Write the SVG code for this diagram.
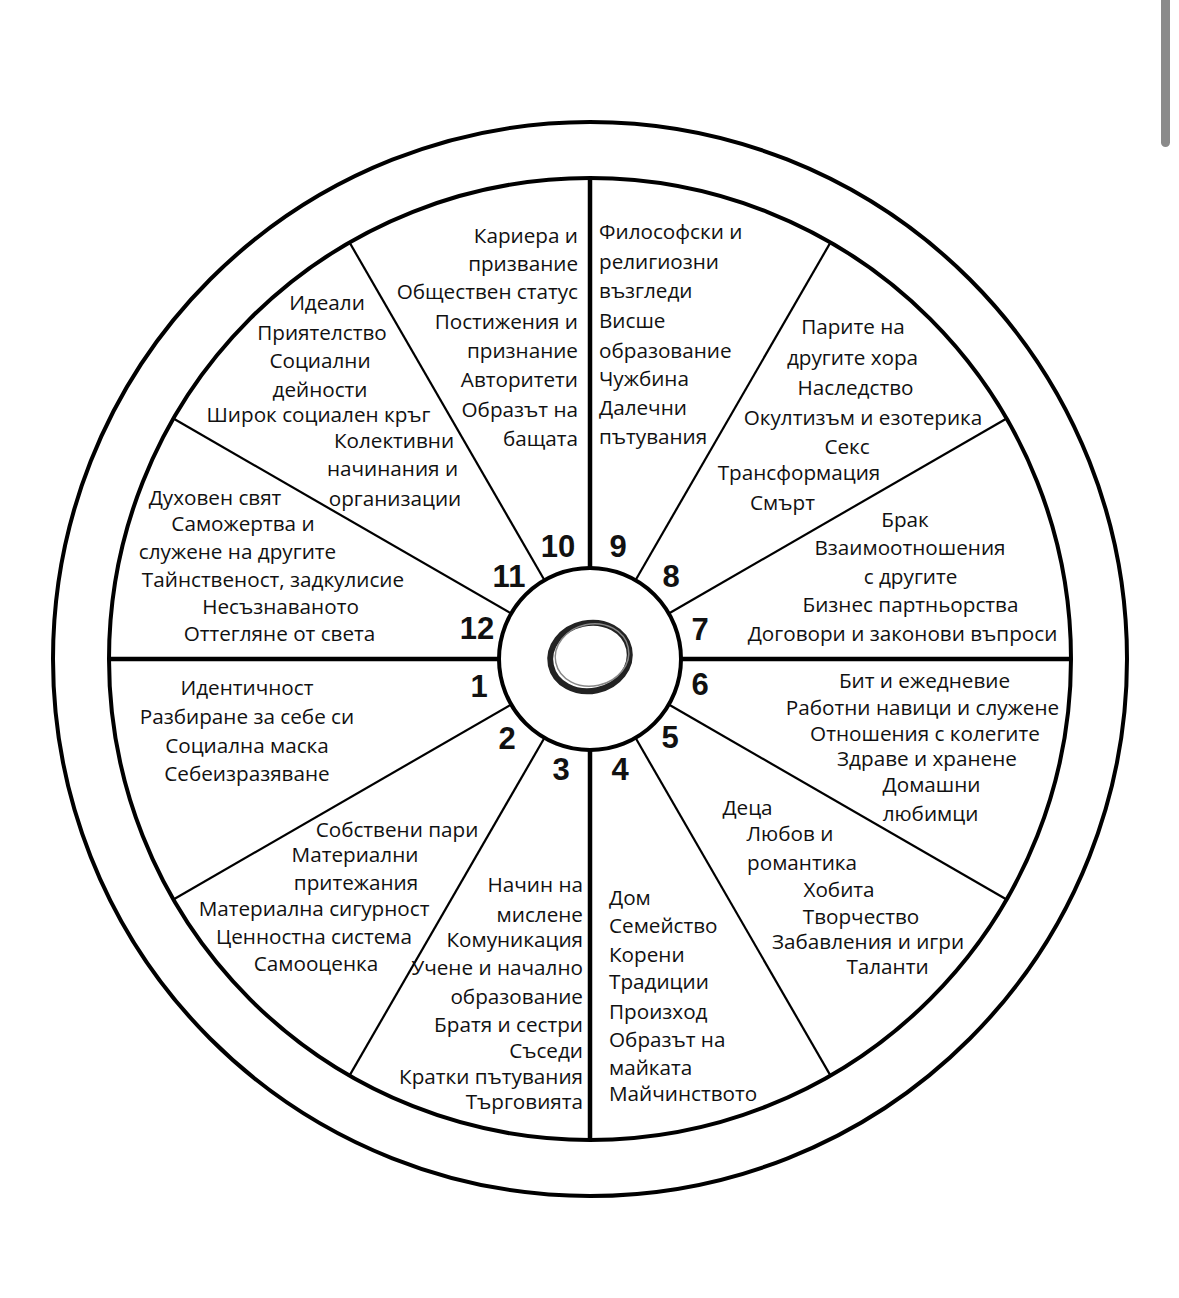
<svg xmlns="http://www.w3.org/2000/svg" width="1179" height="1298" viewBox="0 0 1179 1298">
<style>
.t{font-family:"Open Sans","Noto Sans","DejaVu Sans",sans-serif;font-size:20.7px;fill:#111}
.m{text-anchor:middle}.e{text-anchor:end}.s{text-anchor:start}
.n{font-family:"Liberation Sans",Arial,sans-serif;font-size:31px;font-weight:bold;fill:#111;text-anchor:middle}
.ring{fill:none;stroke:#000;stroke-width:4}
.thick{stroke:#000;stroke-width:4.5}
.thin{stroke:#000;stroke-width:2.2}
</style>
<rect width="1179" height="1298" fill="#fff"/>
<rect x="1161" y="-6" width="9" height="153" rx="4.5" fill="#8a8a8a"/>
<g id="wheel">
<circle class="ring" cx="590" cy="659" r="537"/>
<circle class="ring" cx="590" cy="659" r="481"/>
<circle class="ring" cx="590" cy="659" r="91"/>
</g>
<g id="center-mark">
<ellipse cx="590" cy="657" rx="40" ry="34" transform="rotate(-12 590 657)" fill="none" stroke="#222" stroke-width="6"/>
<ellipse cx="592" cy="655" rx="37" ry="31" transform="rotate(-12 592 655)" fill="none" stroke="#888" stroke-width="1.5"/>
</g>
<g id="connectors">
<line class="thick" x1="109" y1="659" x2="499" y2="659"/>
<line class="thick" x1="681" y1="659" x2="1071" y2="659"/>
<line class="thick" x1="590" y1="178" x2="590" y2="568"/>
<line class="thick" x1="590" y1="750" x2="590" y2="1140"/>
<line class="thin" x1="668.8" y1="704.5" x2="1006.6" y2="899.5"/>
<line class="thin" x1="635.5" y1="737.8" x2="830.5" y2="1075.6"/>
<line class="thin" x1="544.5" y1="737.8" x2="349.5" y2="1075.6"/>
<line class="thin" x1="511.2" y1="704.5" x2="173.4" y2="899.5"/>
<line class="thin" x1="511.2" y1="613.5" x2="173.4" y2="418.5"/>
<line class="thin" x1="544.5" y1="580.2" x2="349.5" y2="242.4"/>
<line class="thin" x1="635.5" y1="580.2" x2="830.5" y2="242.4"/>
<line class="thin" x1="668.8" y1="613.5" x2="1006.6" y2="418.5"/>
</g>
<g id="house1">
<text class="n" x="479" y="697">1</text>
<text class="t m" x="247" y="695">Идентичност</text>
<text class="t m" x="247" y="724">Разбиране за себе си</text>
<text class="t m" x="247" y="753">Социална маска</text>
<text class="t m" x="247" y="781">Себеизразяване</text>
</g>
<g id="house2">
<text class="n" x="507" y="749">2</text>
<text class="t m" x="397" y="837">Собствени пари</text>
<text class="t m" x="355" y="862">Материални</text>
<text class="t m" x="356" y="890">притежания</text>
<text class="t m" x="314" y="916">Материална сигурност</text>
<text class="t m" x="314" y="944">Ценностна система</text>
<text class="t m" x="316" y="971">Самооценка</text>
</g>
<g id="house3">
<text class="n" x="561" y="780">3</text>
<text class="t e" x="583" y="892">Начин на</text>
<text class="t e" x="583" y="922">мислене</text>
<text class="t e" x="583" y="947">Комуникация</text>
<text class="t e" x="583" y="975">Учене и начално</text>
<text class="t e" x="583" y="1004">образование</text>
<text class="t e" x="583" y="1032">Братя и сестри</text>
<text class="t e" x="583" y="1058">Съседи</text>
<text class="t e" x="583" y="1084">Кратки пътувания</text>
<text class="t e" x="583" y="1109">Търговията</text>
</g>
<g id="house4">
<text class="n" x="620" y="780">4</text>
<text class="t s" x="609" y="905">Дом</text>
<text class="t s" x="609" y="933">Семейство</text>
<text class="t s" x="609" y="962">Корени</text>
<text class="t s" x="609" y="989">Традиции</text>
<text class="t s" x="609" y="1019">Произход</text>
<text class="t s" x="609" y="1047">Образът на</text>
<text class="t s" x="609" y="1075">майката</text>
<text class="t s" x="609" y="1101">Майчинството</text>
</g>
<g id="house5">
<text class="n" x="670" y="748">5</text>
<text class="t m" x="747.5" y="815">Деца</text>
<text class="t m" x="790" y="841">Любов и</text>
<text class="t m" x="802" y="870">романтика</text>
<text class="t m" x="839" y="897">Хобита</text>
<text class="t m" x="861" y="924">Творчество</text>
<text class="t m" x="868" y="949">Забавления и игри</text>
<text class="t m" x="887.5" y="974">Таланти</text>
</g>
<g id="house6">
<text class="n" x="700" y="695">6</text>
<text class="t m" x="924.5" y="688">Бит и ежедневие</text>
<text class="t m" x="922.5" y="715">Работни навици и служене</text>
<text class="t m" x="925" y="741">Отношения с колегите</text>
<text class="t m" x="927" y="766">Здраве и хранене</text>
<text class="t m" x="931.5" y="792">Домашни</text>
<text class="t m" x="930.5" y="821">любимци</text>
</g>
<g id="house7">
<text class="n" x="700" y="640">7</text>
<text class="t m" x="905" y="527">Брак</text>
<text class="t m" x="910" y="555">Взаимоотношения</text>
<text class="t m" x="910.5" y="584">с другите</text>
<text class="t m" x="910.5" y="612">Бизнес партньорства</text>
<text class="t m" x="902.5" y="641">Договори и законови въпроси</text>
</g>
<g id="house8">
<text class="n" x="671" y="587">8</text>
<text class="t m" x="853" y="334">Парите на</text>
<text class="t m" x="852.5" y="365">другите хора</text>
<text class="t m" x="855.5" y="395">Наследство</text>
<text class="t m" x="863" y="425">Окултизъм и езотерика</text>
<text class="t m" x="847" y="454">Секс</text>
<text class="t m" x="799" y="480">Трансформация</text>
<text class="t m" x="782.5" y="510">Смърт</text>
</g>
<g id="house9">
<text class="n" x="618" y="557">9</text>
<text class="t s" x="599" y="239">Философски и</text>
<text class="t s" x="599" y="269">религиозни</text>
<text class="t s" x="599" y="298">възгледи</text>
<text class="t s" x="599" y="328">Висше</text>
<text class="t s" x="599" y="358">образование</text>
<text class="t s" x="599" y="386">Чужбина</text>
<text class="t s" x="599" y="415">Далечни</text>
<text class="t s" x="599" y="444">пътувания</text>
</g>
<g id="house10">
<text class="n" x="558" y="557">10</text>
<text class="t e" x="578" y="243">Кариера и</text>
<text class="t e" x="578" y="271">призвание</text>
<text class="t e" x="578" y="299">Обществен статус</text>
<text class="t e" x="578" y="329">Постижения и</text>
<text class="t e" x="578" y="358">признание</text>
<text class="t e" x="578" y="387">Авторитети</text>
<text class="t e" x="578" y="417">Образът на</text>
<text class="t e" x="578" y="446">бащата</text>
</g>
<g id="house11">
<text class="n" x="509" y="587">11</text>
<text class="t m" x="327" y="310">Идеали</text>
<text class="t m" x="322" y="340">Приятелство</text>
<text class="t m" x="320" y="368">Социални</text>
<text class="t m" x="320" y="397">дейности</text>
<text class="t m" x="318.5" y="422">Широк социален кръг</text>
<text class="t m" x="394" y="448">Колективни</text>
<text class="t m" x="392.5" y="476">начинания и</text>
<text class="t m" x="395" y="506">организации</text>
</g>
<g id="house12">
<text class="n" x="477" y="639">12</text>
<text class="t m" x="215" y="505">Духовен свят</text>
<text class="t m" x="243" y="531">Саможертва и</text>
<text class="t m" x="237.5" y="559">служене на другите</text>
<text class="t m" x="273" y="587">Тайнственост, задкулисие</text>
<text class="t m" x="280.5" y="614">Несъзнаваното</text>
<text class="t m" x="279.5" y="641">Оттегляне от света</text>
</g>
</svg>
